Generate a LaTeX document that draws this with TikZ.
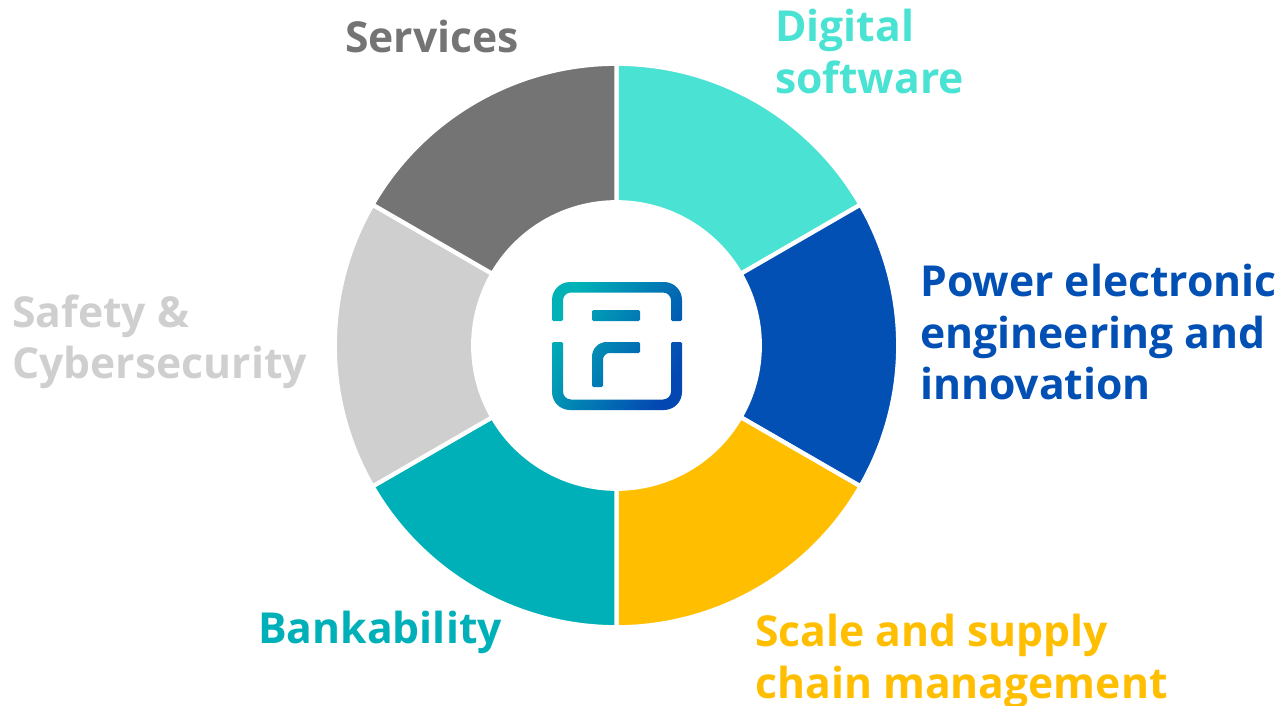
\documentclass[tikz,border=0pt]{standalone}
\usepackage{fontspec}
\setmainfont{Open Sans}
\tikzset{
  seglabel/.style={anchor=north west,inner sep=0.75pt,align=left,font=\fontsize{32}{38.5}\selectfont\bfseries},
  segment/.style={color=white,line width=3.2}
}
\begin{document}
\begin{tikzpicture}[x=0.75pt,y=0.75pt,yscale=-1,xscale=1]
\useasboundingbox (0,0) rectangle (1281,706);

%Shape: Digital software sector
\draw [segment,fill={rgb, 255:red, 74; green, 227; blue, 211 }] (616.5,63.75) arc (-90:-30:281.75) -- (740.6,273.9) arc (-30:-90:143.25) -- cycle ;
%Shape: Power electronic sector
\draw [segment,fill={rgb, 255:red, 3; green, 80; blue, 181 }] (860.5,204.6) arc (-30:30:281.75) -- (740.6,417.1) arc (30:-30:143.25) -- cycle ;
%Shape: Scale and supply sector
\draw [segment,fill={rgb, 255:red, 255; green, 190; blue, 0 }] (860.5,486.4) arc (30:90:281.75) -- (616.5,488.75) arc (90:30:143.25) -- cycle ;
%Shape: Bankability sector
\draw [segment,fill={rgb, 255:red, 0; green, 176; blue, 185 }] (616.5,627.25) arc (90:150:281.75) -- (492.4,417.1) arc (150:90:143.25) -- cycle ;
%Shape: Safety sector
\draw [segment,fill={rgb, 255:red, 207; green, 207; blue, 207 }] (372.5,486.4) arc (150:210:281.75) -- (492.4,273.9) arc (210:150:143.25) -- cycle ;
%Shape: Services sector
\draw [segment,fill={rgb, 255:red, 116; green, 116; blue, 116 }] (372.5,204.6) arc (210:270:281.75) -- (616.5,202.25) arc (270:210:143.25) -- cycle ;

%Shape: Logo
\shade [shading=axis,left color={rgb, 255:red, 0; green, 178; blue, 182 },middle color={rgb, 255:red, 0; green, 140; blue, 190 },right color={rgb, 255:red, 3; green, 72; blue, 178 },shading angle=60]
  [rounded corners=1] (552,321) [rounded corners=13.5] -- (552,282) -- (682,282) [rounded corners=1] -- (682,321) -- (671,321) [rounded corners=6] -- (671,292.5) -- (563,292.5) [rounded corners=1] -- (563,321) -- cycle
  [rounded corners=1] (552,342) [rounded corners=13.5] -- (552,410) -- (682,410) [rounded corners=1] -- (682,342) -- (671,342) [rounded corners=6] -- (671,399.5) -- (563,399.5) [rounded corners=1] -- (563,342) -- cycle
  [rounded corners=1] (592,310) -- (640,310) -- (640,321) -- (592,321) -- cycle
  [rounded corners=1] (592,387) [rounded corners=11] -- (592,342) [rounded corners=1] -- (640,342) -- (640,353) [rounded corners=5] -- (603,353) [rounded corners=1] -- (603,387) -- cycle ;

% Text Node
\draw (344,19) node (services) [seglabel,text={rgb, 255:red, 116; green, 116; blue, 116 }] {Services};
% Text Node
\draw (774,8) node (digital) [seglabel,text={rgb, 255:red, 74; green, 227; blue, 211 }] {Digital\\software};
% Text Node
\draw (919,263) node (power) [seglabel,text={rgb, 255:red, 3; green, 80; blue, 181 }] {Power electronic\\engineering and\\innovation};
% Text Node
\draw (754,613) node (scale) [seglabel,text={rgb, 255:red, 255; green, 190; blue, 0 }] {Scale and supply\\chain management};
% Text Node
\draw (257,610) node (bank) [seglabel,text={rgb, 255:red, 0; green, 176; blue, 185 }] {Bankability};
% Text Node
\draw (11,293.5) node (safety) [seglabel,text={rgb, 255:red, 207; green, 207; blue, 207 }] {Safety \&\\Cybersecurity};
\end{tikzpicture}
\end{document}
